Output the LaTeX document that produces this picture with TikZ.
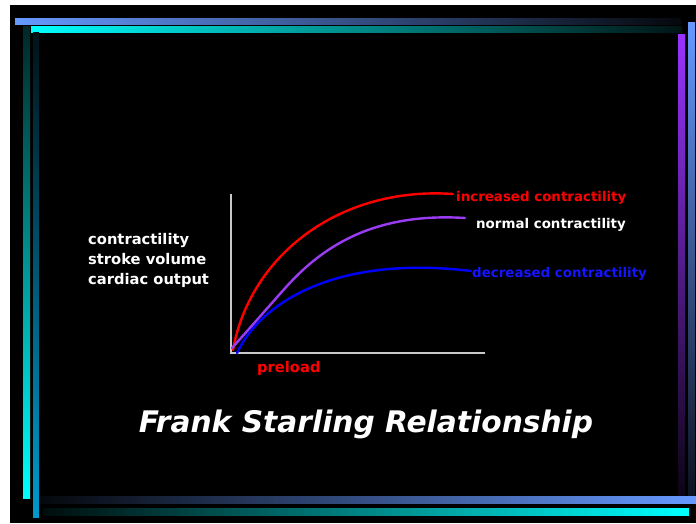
\documentclass[tikz,border=0pt]{standalone}
\usepackage{fontspec}
\setmainfont{DejaVu Sans}
\definecolor{slideblue}{HTML}{6699FF}
\definecolor{slidecyan}{HTML}{00FFFF}
\definecolor{slideteal}{HTML}{0099CC}
\definecolor{slidepurple}{HTML}{9933FF}
\definecolor{curvepurple}{HTML}{9B3CF5}
\definecolor{axisgray}{HTML}{C8C8C8}
\begin{document}
\begin{tikzpicture}[x=1pt,y=-1pt,
  lbl/.style={inner sep=0pt,anchor=base west,font=\bfseries\fontsize{14.7}{17}\selectfont,text=white},
  key/.style={inner sep=0pt,anchor=base west,font=\bfseries\fontsize{13.4}{16}\selectfont},
  curve/.style={line width=2.4pt,line cap=round}]
% page and slide
\useasboundingbox (0,0) rectangle (696,523);
\fill[white] (0,0) rectangle (696,523);
\fill[black] (10,5) rectangle (696,523);
% frame bars
\shade[left color=slideblue,middle color=slideblue!80!black,right color=black!95!slideblue] (15,18) rectangle (681,24);
\shade[left color=slidecyan,middle color=slidecyan!70!black,right color=black!92!slidecyan] (31,26) rectangle (682,32);
\shade[top color=black!85!slidecyan,middle color=slidecyan!70!black,bottom color=slidecyan] (23,26) rectangle (30,498);
\shade[top color=black!88!slideteal,middle color=slideteal!72!black,bottom color=slideteal] (33,32) rectangle (39,517);
\shade[top color=slidepurple,middle color=slidepurple!85!black,bottom color=black!92!slidepurple] (678,34) rectangle (685,495);
\shade[top color=slideblue,middle color=slideblue!78!black,bottom color=black!88!slideblue] (688,22) rectangle (695,495);
\shade[left color=black!95!slideblue,middle color=slideblue!55!black,right color=slideblue] (40,496) rectangle (696,503);
\shade[left color=black!95!slidecyan,middle color=slidecyan!55!black,right color=slidecyan] (43,508) rectangle (689,515);
% axes
\coordinate (o) at (231,353);
\coordinate (ytop) at (231,194);
\coordinate (xend) at (485,353);
\draw[axisgray,line width=1.5pt] (ytop) -- (o) -- (xend);
% labels
\node[lbl] (ylab1) at (88,244) {contractility};
\node[lbl] (ylab2) at (88,264) {stroke volume};
\node[lbl] (ylab3) at (88,284) {cardiac output};
\node[lbl,text=red] (xlab) at (257,372) {preload};
\node[key,text=red] (inc) at (456,201) {increased contractility};
\node[key,text=white] (norm) at (476,228) {normal contractility};
\node[key,text={rgb,255:red,20;green,20;blue,255}] (dec) at (472,277) {decreased contractility};
\node[inner sep=0pt,anchor=base,text=white,font=\bfseries\itshape\fontsize{29.7}{34}\selectfont] (title) at (366,432) {Frank Starling Relationship};
% curves
\coordinate (incend) at (453,194);
\coordinate (normbend) at (287,286);
\coordinate (normend) at (465,218);
\coordinate (decend) at (471,271);
\draw[curve,red] (233,350) .. controls (250,255) and (340,186) .. (incend);
\draw[curve,curvepurple] (232,348) .. controls (250,328) and (270,305) .. (normbend)
  .. controls (320,250) and (370,212) .. (normend);
\draw[curve,blue] (237,353) .. controls (262,300) and (340,255) .. (decend);
\end{tikzpicture}
\end{document}
